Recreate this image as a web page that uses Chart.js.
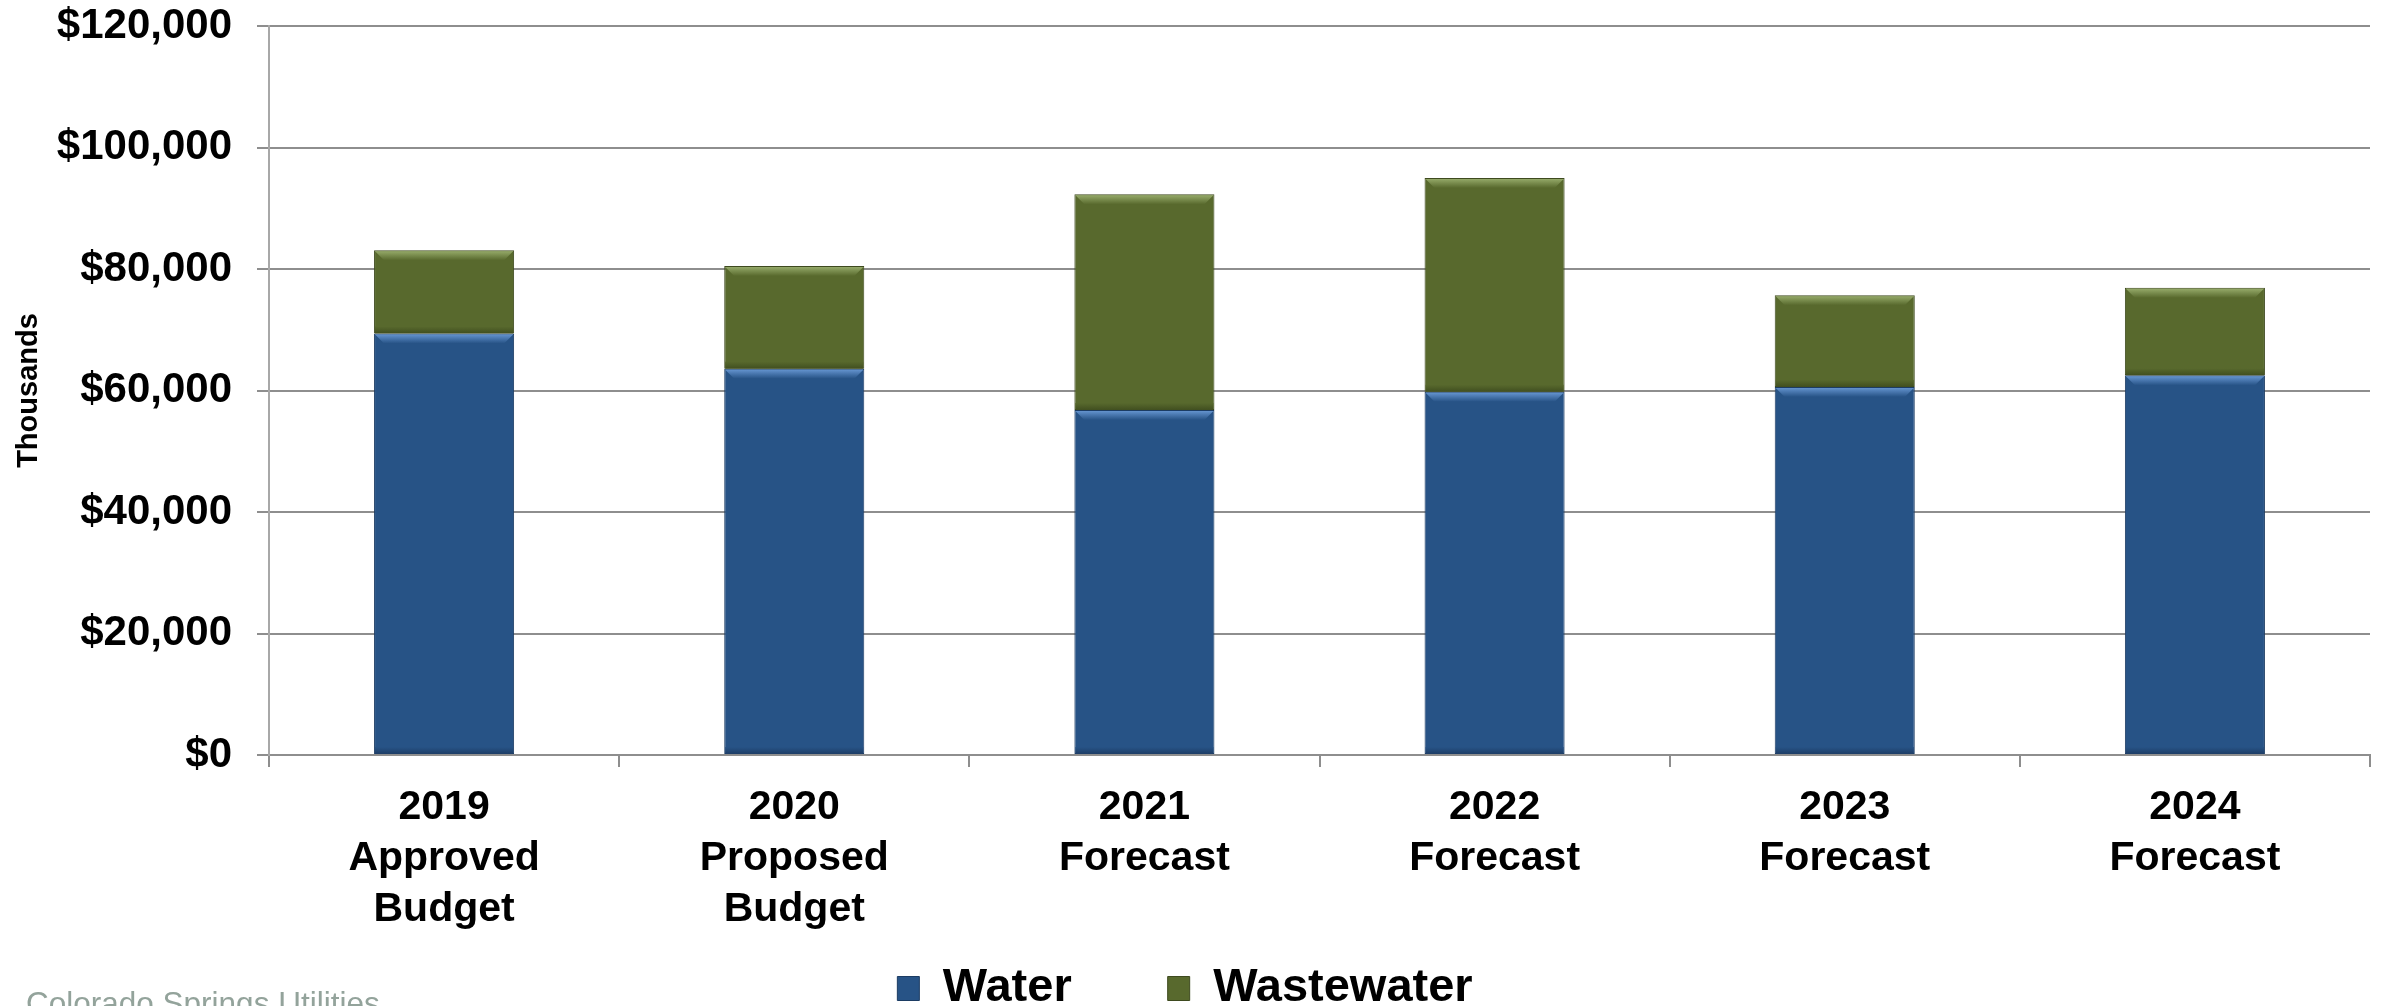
<!DOCTYPE html>
<html>
<head>
<meta charset="utf-8">
<script src="https://cdn.jsdelivr.net/npm/chart.js@4.4.1/dist/chart.umd.min.js"></script>
<style>
  html, body { margin: 0; padding: 0; background: #fff; overflow: hidden; }
  #wrap { position: relative; width: 2382px; height: 1006px; overflow: hidden; }
  #footer {
    position: absolute; left: 26px; top: 988px;
    font-family: "Liberation Sans", Arial, sans-serif;
    font-size: 31.5px; line-height: 31.5px; color: #93a39b; white-space: nowrap;
  }
</style>
</head>
<body>
<div id="wrap">
  <canvas id="chart" width="2382" height="1006"></canvas>
  <div id="footer">Colorado Springs Utilities</div>
</div>
<script>
// chart data (values in thousands of dollars)
const categories = [
  ['2019', 'Approved', 'Budget'],
  ['2020', 'Proposed', 'Budget'],
  ['2021', 'Forecast'],
  ['2022', 'Forecast'],
  ['2023', 'Forecast'],
  ['2024', 'Forecast']
];
const waterValues = [69400, 63600, 56800, 59800, 60600, 62500];
const wastewaterValues = [13700, 16900, 35500, 35200, 15100, 14400];
const yTickLabels = ['$0', '$20,000', '$40,000', '$60,000', '$80,000', '$100,000', '$120,000'];

const FONT = "'Liberation Sans', Arial, sans-serif";
const GRID = '#8e8e8e';

// light bevel on top of each segment, dark edge at the bottom
const bevelPlugin = {
  id: 'bevel',
  afterLayout(chart) {
    // category labels run down past the legend's box; don't clip them
    chart.scales.x.bottom = chart.height;
  },
  afterDatasetsDraw(chart) {
    const ctx = chart.ctx;
    chart.data.datasets.forEach((ds, di) => {
      const meta = chart.getDatasetMeta(di);
      meta.data.forEach(bar => {
        const { x, y, base, width } = bar.getProps(['x', 'y', 'base', 'width'], true);
        const left = x - width / 2, right = x + width / 2;
        const top = Math.min(y, base), bottom = Math.max(y, base);
        const b = 10;
        ctx.save();
        const g = ctx.createLinearGradient(0, top, 0, top + b);
        g.addColorStop(0, ds.bevelLight);
        g.addColorStop(1, ds.backgroundColor);
        ctx.fillStyle = g;
        ctx.beginPath();
        ctx.moveTo(left + 1, top + 1);
        ctx.lineTo(right - 1, top + 1);
        ctx.lineTo(right - b, top + b);
        ctx.lineTo(left + b, top + b);
        ctx.closePath();
        ctx.fill();
        const d = ctx.createLinearGradient(0, bottom - 7, 0, bottom);
        d.addColorStop(0, ds.backgroundColor);
        d.addColorStop(1, ds.bevelDark);
        ctx.fillStyle = d;
        ctx.fillRect(left + 1, bottom - 7, width - 2, 7);
        ctx.restore();
      });
    });
  }
};

new Chart(document.getElementById('chart'), {
  type: 'bar',
  data: {
    labels: categories,
    datasets: [
      {
        label: 'Water',
        data: waterValues,
        backgroundColor: '#275386',
        borderColor: '#1c3c63',
        bevelLight: '#6a9ad6',
        bevelDark: '#1d3d66',
        borderWidth: 1,
        borderSkipped: false,
        categoryPercentage: 1,
        barPercentage: 0.4
      },
      {
        label: 'Wastewater',
        data: wastewaterValues,
        backgroundColor: '#58692d',
        borderColor: '#3e4a1f',
        bevelLight: '#9bb06f',
        bevelDark: '#414f20',
        borderWidth: 1,
        borderSkipped: false,
        categoryPercentage: 1,
        barPercentage: 0.4
      }
    ]
  },
  options: {
    responsive: false,
    animation: false,
    devicePixelRatio: 1,
    layout: { padding: { left: 0, right: 12, top: 0, bottom: -16 } },
    plugins: {
      tooltip: { enabled: false },
      legend: {
        position: 'bottom',
        labels: {
          color: '#000',
          font: { family: FONT, size: 47, weight: 'bold' },
          boxWidth: 22,
          boxHeight: 24,
          padding: 96
        }
      }
    },
    scales: {
      x: {
        stacked: true,
        grid: { display: true, drawOnChartArea: false, drawTicks: true, tickLength: 12, color: GRID, lineWidth: 2 },
        border: { display: true, color: GRID, width: 2 },
        ticks: {
          color: '#000',
          font: { family: FONT, size: 41, weight: 'bold', lineHeight: 1.25 },
          maxRotation: 0,
          autoSkip: false,
          padding: 15
        },
        afterFit: scale => { scale.height = 114; }
      },
      y: {
        stacked: true,
        min: 0,
        max: 120000,
        grid: { color: GRID, lineWidth: 2, drawTicks: true, tickLength: 12 },
        border: { display: true, color: '#a8a8a8', width: 2 },
        ticks: {
          stepSize: 20000,
          color: '#000',
          padding: 25,
          font: { family: FONT, size: 42, weight: 'bold', lineHeight: 0.05 },
          callback: (val, i) => yTickLabels[i]
        },
        title: {
          display: true,
          text: 'Thousands',
          color: '#000',
          font: { family: FONT, size: 29, weight: 'bold' },
          padding: { top: 12, bottom: 0 }
        },
        afterFit: scale => { scale.width = 269; }
      }
    }
  },
  plugins: [bevelPlugin]
});
</script>
</body>
</html>
